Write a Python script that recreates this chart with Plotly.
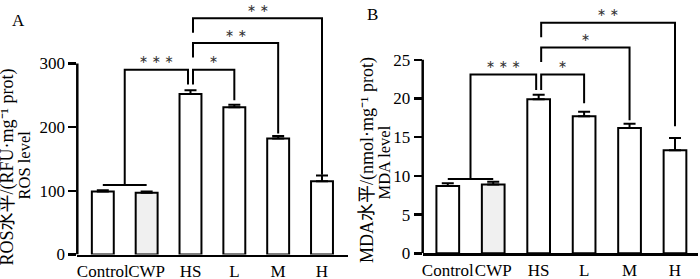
import plotly.graph_objects as go

# ---------------- data ----------------
categories = ["Control", "CWP", "HS", "L", "M", "H"]
ros_mean = [99, 97, 252, 231, 182, 115]
ros_err = [2, 2, 6, 4, 4, 9]
mda_mean = [8.7, 8.9, 19.9, 17.7, 16.2, 13.3]
mda_err = [0.35, 0.35, 0.6, 0.6, 0.55, 1.6]
bar_fill = ["white", "#f0f0f0", "white", "white", "white", "white"]

ros_ticks = [0, 100, 200, 300]
mda_ticks = [0, 5, 10, 15, 20, 25]

# significance brackets: HS vs Control/CWP, HS vs L, HS vs M, HS vs H
sig_labels = ["∗ ∗ ∗", "∗", "∗ ∗", "∗ ∗"]
sig_labels_b = ["∗ ∗ ∗", "∗", "∗", "∗ ∗"]
sig_targets = [None, 3, 4, 5]
ros_join = 109
ros_levels = [290, 290, 332, 371]
ros_hs_end = 267
ros_target_ends = [None, 242, 190, 125]
mda_join = 9.6
mda_levels = [23.1, 23.1, 26.6, 29.8]
mda_hs_end = 21.1
mda_target_ends = [None, 19.4, 17.2, 16.4]

W, H = 700, 279
FONT = "Liberation Serif, Noto Sans CJK SC, serif"

fig = go.Figure()

panels = [
    dict(xa="x", ya="y", mean=ros_mean, err=ros_err, ticks=ros_ticks, ymax_axis=300,
         xpx=(77.3, 348.0), zero_px=254.5, ppu=0.637, xr=(-0.582, 5.593),
         join=ros_join, levels=ros_levels, hs_end=ros_hs_end, tends=ros_target_ends,
         labels=sig_labels),
    dict(xa="x2", ya="y2", mean=mda_mean, err=mda_err, ticks=mda_ticks, ymax_axis=25,
         xpx=(422.7, 698.3), zero_px=253.3, ppu=7.74, xr=(-0.552, 5.513),
         join=mda_join, levels=mda_levels, hs_end=mda_hs_end, tends=mda_target_ends,
         labels=sig_labels_b),
]

shapes = []
annotations = []
for i, p in enumerate(panels):
    fig.add_trace(go.Bar(
        x=list(range(len(categories))), y=p["mean"], width=0.5,
        marker=dict(color=bar_fill, line=dict(color="black", width=2)),
        error_y=dict(type="data", array=p["err"], arrayminus=[0] * len(p["err"]),
                     symmetric=False, color="black", thickness=2, width=6),
        xaxis=p["xa"], yaxis=p["ya"], showlegend=False, hoverinfo="skip",
    ))
    suffix = "" if i == 0 else str(i + 1)
    ytop = p["zero_px"] / p["ppu"]
    fig.update_layout(**{
        "xaxis" + suffix: dict(
            domain=[p["xpx"][0] / W, p["xpx"][1] / W], range=list(p["xr"]),
            anchor=p["ya"], showline=True, linewidth=2.5, linecolor="black",
            ticks="", tickvals=list(range(len(categories))), ticktext=categories,
            tickangle=0, automargin=False,
            tickfont=dict(family=FONT, size=17, color="black"),
            showgrid=False, zeroline=False, fixedrange=True),
        "yaxis" + suffix: dict(
            domain=[1 - p["zero_px"] / H, 1], range=[0, ytop], anchor=p["xa"],
            showline=False, tickvals=p["ticks"], ticks="outside", ticklen=8,
            tickwidth=2.5, tickcolor="black", automargin=False,
            tickfont=dict(family=FONT, size=17, color="black"),
            showgrid=False, zeroline=False, fixedrange=True),
    })
    # y axis line only up to top tick
    shapes.append(dict(type="line", xref=p["xa"] + " domain", yref=p["ya"],
                       x0=0, x1=0, y0=0, y1=p["ymax_axis"],
                       line=dict(color="black", width=2.5)))
    ppc = (p["xpx"][1] - p["xpx"][0]) / (p["xr"][1] - p["xr"][0])
    d = 2.5 / ppc
    stub = 14.5 / p["ppu"]
    line = dict(color="black", width=2)
    hs = 2
    # Control/CWP join
    shapes.append(dict(type="path", xref=p["xa"], yref=p["ya"], line=line,
                       path=f"M 0 {p['join']} L 1 {p['join']}"))
    lv = p["levels"]
    # *** bracket
    shapes.append(dict(type="path", xref=p["xa"], yref=p["ya"], line=line,
                       path=f"M 0.5 {p['join']} L 0.5 {lv[0]} L {hs - d} {lv[0]} L {hs - d} {p['hs_end']}"))
    spans = [(0.5, hs - d)]
    # HS vs L
    t = sig_targets[1]
    shapes.append(dict(type="path", xref=p["xa"], yref=p["ya"], line=line,
                       path=f"M {hs + d} {p['hs_end']} L {hs + d} {lv[1]} L {t} {lv[1]} L {t} {p['tends'][1]}"))
    spans.append((hs + d, t))
    # HS vs M, HS vs H
    for k in (2, 3):
        t = sig_targets[k]
        shapes.append(dict(type="path", xref=p["xa"], yref=p["ya"], line=line,
                           path=f"M {hs + d} {lv[k] - stub} L {hs + d} {lv[k]} L {t} {lv[k]} L {t} {p['tends'][k]}"))
        spans.append((hs + d, t))
    for k in range(4):
        annotations.append(dict(
            x=(spans[k][0] + spans[k][1]) / 2, y=lv[k], xref=p["xa"], yref=p["ya"],
            text=p["labels"][k], showarrow=False, xanchor="center", yanchor="middle",
            yshift=10, font=dict(family="DejaVu Sans", size=11, color="#333")))

# panel letters
for letter, xp, yp in (("A", 18, 20), ("B", 373, 15)):
    annotations.append(dict(x=xp / W, y=1 - yp / H, xref="paper", yref="paper", text=letter,
                            showarrow=False, xanchor="center", yanchor="middle",
                            font=dict(family=FONT, size=17, color="black")))

# y titles
titles = [
    ("ROS水平/(RFU·mg⁻¹ prot)", 7, 167.5, 18),
    ("ROS level", 23.5, 165, 16.5),
    ("MDA水平/(nmol·mg⁻¹ prot)", 367.5, 160.5, 18),
    ("MDA level", 384, 162.5, 16.5),
]
for txt, xp, yp, fs in titles:
    annotations.append(dict(x=xp / W, y=1 - yp / H, xref="paper", yref="paper", text=txt,
                            textangle=-90, showarrow=False, xanchor="center", yanchor="middle",
                            font=dict(family=FONT, size=fs, color="black")))

fig.update_layout(template="none", width=W, height=H, margin=dict(l=0, r=0, t=0, b=0, pad=0),
                  plot_bgcolor="white", paper_bgcolor="white", showlegend=False,
                  bargap=0, shapes=shapes, annotations=annotations, hovermode=False)

fig.write_html("out.html", config={"displayModeBar": False, "staticPlot": True},
               post_script="document.body.style.margin='0';document.body.style.overflow='hidden';")
